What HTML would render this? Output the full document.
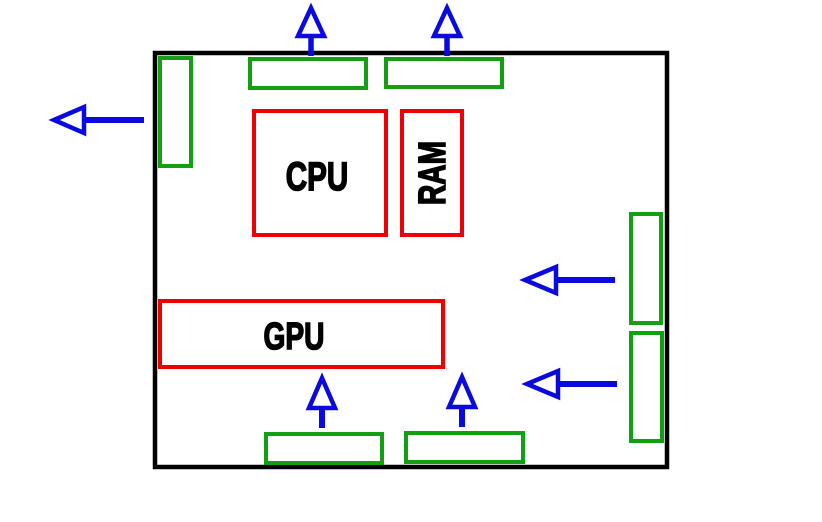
<!DOCTYPE html>
<html><head><style>html,body{margin:0;padding:0;background:#fff;}svg{display:block}</style></head>
<body>
<svg width="822" height="522" viewBox="0 0 822 522" xmlns="http://www.w3.org/2000/svg">
<rect x="155" y="53" width="512" height="414" fill="none" stroke="#000" stroke-width="4.5"/>
<g fill="none" stroke="#12a012" stroke-width="4">
<rect x="160" y="58" width="31" height="108"/>
<rect x="250" y="59" width="116" height="29"/>
<rect x="386" y="59" width="116" height="28"/>
<rect x="631" y="214" width="30" height="109"/>
<rect x="631" y="333" width="31" height="108"/>
<rect x="266" y="434" width="116" height="29"/>
<rect x="406" y="433" width="117" height="29"/>
</g>
<g fill="none" stroke="#e00" stroke-width="4">
<rect x="254" y="111" width="132" height="124"/>
<rect x="402" y="111" width="60" height="124"/>
<rect x="160" y="301" width="283" height="66"/>
</g>
<g fill="none" stroke="#0a0ae0" stroke-width="5.5">
<line x1="311" y1="56" x2="311" y2="37"/><polygon points="311,8 298,36 324,36" stroke-width="4.5"/>
<line x1="447" y1="56" x2="447" y2="37"/><polygon points="447,8 434,36 460,36" stroke-width="4.5"/>
<line x1="144" y1="120" x2="85" y2="120" stroke-width="6"/><polygon points="54,120 84,107 84,133" stroke-width="4.5"/>
<line x1="615" y1="280" x2="557" y2="280" stroke-width="6"/><polygon points="525,280 556,267 556,293" stroke-width="4.5"/>
<line x1="617" y1="384" x2="559" y2="384" stroke-width="6"/><polygon points="527,384 558,371 558,397" stroke-width="4.5"/>
<line x1="322" y1="428" x2="322" y2="409" stroke-width="6"/><polygon points="322,378 309,408 335,408" stroke-width="4.5"/>
<line x1="462" y1="427" x2="462" y2="408" stroke-width="6"/><polygon points="462,377 449,407 475,407" stroke-width="4.5"/>
</g>
<g font-family="'Liberation Sans Narrow','Liberation Sans',sans-serif" font-weight="bold" fill="#000" stroke="#000" stroke-width="1.6">
<text x="0" y="0" font-size="40" text-anchor="middle" transform="translate(317,190) scale(0.74,1)">CPU</text>
<text x="0" y="0" font-size="38" text-anchor="middle" transform="translate(294,349) scale(0.74,1)">GPU</text>
<text x="0" y="0" font-size="38" text-anchor="middle" transform="translate(445,173) rotate(-90) scale(0.74,1)">RAM</text>
</g>
</svg>
</body></html>
